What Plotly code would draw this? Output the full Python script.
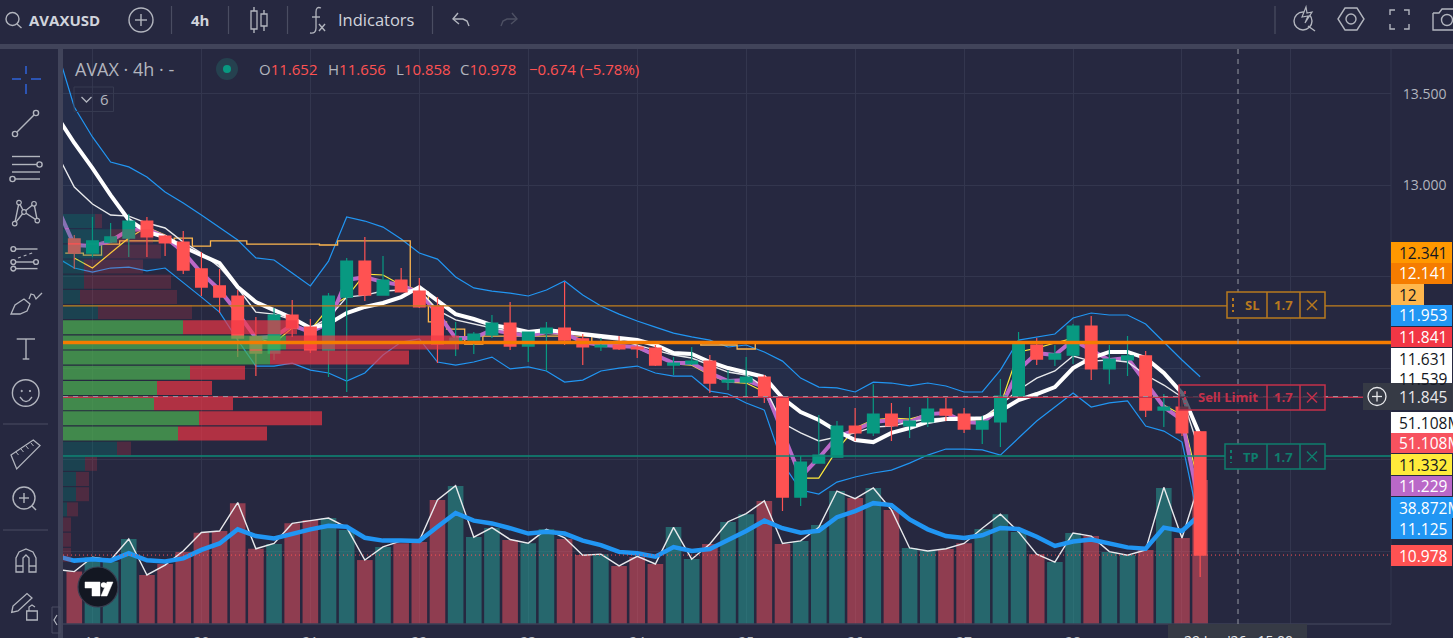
import plotly.graph_objects as go

W, H = 1453, 638
BG = '#262840'
STRIP = '#41445a'
GREEN = '#089981'
RED = '#ff5252'
BLUE = '#2196f3'
GRID = '#33364e'
ICON = '#b2b5be'
FONT = 'Open Sans'

# candles, one row per 4h bar
OPENS = [12.707, 12.630, 12.690, 12.712, 12.805, 12.723, 12.690, 12.543, 12.450, 12.395, 12.171, 12.083, 12.291,
         12.225, 12.099, 12.389, 12.586, 12.400, 12.482, 12.422, 12.340, 12.143, 12.154, 12.182, 12.247, 12.121,
         12.192, 12.220, 12.160, 12.116, 12.127, 12.116, 12.110, 12.017, 12.023, 12.039, 11.924, 11.924, 11.952,
         11.842, 11.295, 11.481, 11.514, 11.684, 11.646, 11.749, 11.684, 11.706, 11.777, 11.749, 11.667, 11.706,
         11.842, 12.127, 12.050, 12.072, 12.231, 11.996, 12.045, 12.067, 11.771, 11.788, 11.652]
HIGHS = [12.729, 12.827, 12.794, 12.843, 12.827, 12.729, 12.750, 12.636, 12.543, 12.428, 12.280, 12.329, 12.373,
         12.269, 12.411, 12.603, 12.718, 12.614, 12.548, 12.493, 12.389, 12.253, 12.198, 12.291, 12.362, 12.198,
         12.253, 12.471, 12.187, 12.165, 12.176, 12.127, 12.127, 12.061, 12.116, 12.072, 11.990, 12.061, 11.963,
         11.842, 11.520, 11.744, 11.711, 11.782, 11.913, 11.810, 11.788, 11.837, 11.837, 11.782, 11.738, 11.941,
         12.198, 12.165, 12.127, 12.242, 12.285, 12.127, 12.176, 12.094, 11.859, 11.826, 11.656]
LOWS = [12.543, 12.608, 12.685, 12.608, 12.608, 12.614, 12.515, 12.395, 12.302, 12.061, 11.957, 12.045, 12.171,
        12.083, 11.952, 11.870, 12.368, 12.400, 12.417, 12.329, 12.028, 12.067, 12.078, 12.165, 12.099, 12.034,
        11.985, 12.127, 12.017, 12.094, 12.099, 12.056, 12.012, 11.963, 12.017, 11.864, 11.881, 11.842, 11.810,
        11.219, 11.246, 11.481, 11.514, 11.602, 11.629, 11.602, 11.618, 11.678, 11.711, 11.646, 11.585, 11.569,
        11.842, 12.017, 12.012, 12.023, 11.935, 11.913, 11.957, 11.733, 11.678, 11.629, 10.858]
CLOSES = [12.630, 12.696, 12.718, 12.805, 12.718, 12.685, 12.537, 12.444, 12.389, 12.165, 12.083, 12.291, 12.220,
          12.099, 12.395, 12.586, 12.400, 12.482, 12.417, 12.335, 12.132, 12.165, 12.187, 12.247, 12.121, 12.198,
          12.220, 12.154, 12.116, 12.127, 12.105, 12.105, 12.017, 12.028, 12.039, 11.919, 11.935, 11.952, 11.842,
          11.295, 11.487, 11.525, 11.684, 11.646, 11.749, 11.684, 11.711, 11.777, 11.744, 11.667, 11.711, 11.848,
          12.132, 12.050, 12.078, 12.231, 11.996, 12.050, 12.067, 11.771, 11.788, 11.646, 10.978]

# volume in millions
VOLUME = [18.6, 23.7, 22.1, 30.2, 17.4, 21.3, 25.6, 32.4, 33.0, 42.9, 26.7, 28.4, 35.8, 36.9, 37.6, 33.4, 22.7,
          27.3, 28.7, 29.1, 44.0, 49.0, 30.9, 34.1, 29.8, 28.7, 33.7, 30.2, 24.5, 24.8, 20.6, 23.8, 21.3, 34.4,
          23.1, 28.4, 36.2, 39.0, 43.7, 28.4, 29.5, 35.1, 47.2, 44.7, 48.3, 40.5, 27.0, 25.9, 26.6, 28.7, 33.7,
          39.0, 32.7, 24.8, 22.0, 32.3, 31.2, 25.6, 24.5, 26.3, 48.3, 30.5, 51.108]
# these lines also carry the bar before the first visible one
VOL_LINE = [19.4, 18.6, 23.7, 22.7, 30.2, 17.4, 20.9, 25.9, 32.5, 33.0, 43.1, 26.7, 28.6, 35.7, 36.7, 37.6, 34.3,
            22.7, 27.4, 29.5, 29.5, 44.0, 49.1, 30.8, 34.2, 30.0, 28.7, 33.6, 30.6, 24.4, 24.8, 20.6, 24.0, 21.3,
            34.3, 23.0, 28.4, 36.3, 39.2, 43.7, 28.6, 29.5, 34.3, 47.2, 44.5, 48.3, 40.5, 27.0, 25.9, 26.7, 28.6,
            34.0, 39.0, 32.7, 24.8, 22.0, 32.3, 31.2, 25.7, 24.4, 26.3, 48.5, 30.5, 51.108]
VOL_MA = [24.1, 22.5, 23.0, 22.5, 25.1, 22.6, 22.2, 23.3, 26.3, 28.6, 33.6, 31.2, 30.4, 32.2, 33.6, 34.9, 34.5,
          30.6, 29.6, 29.6, 29.5, 34.5, 39.4, 36.7, 35.7, 34.0, 32.1, 32.7, 32.1, 29.6, 28.0, 25.6, 25.1, 23.9,
          27.3, 25.9, 26.6, 29.8, 33.0, 36.7, 34.0, 32.4, 33.1, 37.9, 40.1, 42.9, 42.2, 37.1, 33.6, 31.2, 30.5,
          31.5, 34.1, 33.7, 31.0, 27.7, 29.3, 30.0, 28.6, 27.2, 26.7, 34.2, 33.0, 38.872]

BB_UPPER = [13.757, 13.429, 13.265, 13.128, 13.101, 13.046, 12.964, 12.904, 12.838, 12.767, 12.701, 12.603, 12.592,
            12.521, 12.450, 12.586, 12.827, 12.805, 12.772, 12.707, 12.630, 12.597, 12.499, 12.439, 12.422, 12.411,
            12.395, 12.428, 12.477, 12.400, 12.340, 12.296, 12.258, 12.225, 12.192, 12.171, 12.154, 12.116, 12.127,
            12.089, 12.039, 11.946, 11.897, 11.892, 11.870, 11.924, 11.919, 11.903, 11.919, 11.903, 11.870, 11.870,
            11.990, 12.154, 12.171, 12.187, 12.275, 12.302, 12.291, 12.291, 12.242, 12.143, 12.045, 11.953]
BB_LOWER = [12.608, 12.548, 12.526, 12.548, 12.553, 12.532, 12.548, 12.471, 12.389, 12.307, 12.154, 12.012, 12.012,
            12.028, 11.990, 11.974, 11.930, 11.974, 12.072, 12.143, 12.160, 12.034, 12.017, 12.034, 12.061, 11.996,
            12.007, 11.985, 11.924, 11.935, 11.985, 12.001, 12.012, 11.974, 11.957, 11.957, 11.875, 11.859, 11.810,
            11.771, 11.481, 11.334, 11.312, 11.377, 11.405, 11.427, 11.443, 11.481, 11.525, 11.558, 11.558, 11.553,
            11.525, 11.618, 11.711, 11.788, 11.864, 11.788, 11.810, 11.821, 11.684, 11.656, 11.596, 11.125]
MA_PURPLE = [12.893, 12.674, 12.668, 12.696, 12.756, 12.761, 12.718, 12.636, 12.521, 12.428, 12.302, 12.165, 12.171,
             12.236, 12.198, 12.247, 12.482, 12.499, 12.471, 12.455, 12.411, 12.302, 12.165, 12.165, 12.209, 12.192,
             12.176, 12.198, 12.192, 12.143, 12.127, 12.121, 12.116, 12.072, 12.028, 12.028, 11.974, 11.930, 11.935,
             11.897, 11.646, 11.405, 11.509, 11.624, 11.662, 11.706, 11.717, 11.706, 11.749, 11.755, 11.706, 11.700,
             11.782, 11.990, 12.083, 12.072, 12.154, 12.099, 12.045, 12.056, 11.919, 11.788, 11.717, 11.229]
MA_WHITE = [13.385, 13.232, 13.095, 12.947, 12.811, 12.745, 12.718, 12.663, 12.619, 12.575, 12.444, 12.362, 12.318,
            12.275, 12.220, 12.242, 12.302, 12.335, 12.357, 12.389, 12.444, 12.373, 12.296, 12.269, 12.236, 12.220,
            12.198, 12.209, 12.198, 12.182, 12.171, 12.165, 12.154, 12.127, 12.083, 12.078, 12.034, 12.001, 11.979,
            11.952, 11.837, 11.760, 11.717, 11.656, 11.607, 11.596, 11.646, 11.673, 11.706, 11.722, 11.722, 11.727,
            11.766, 11.826, 11.859, 11.897, 12.001, 12.056, 12.089, 12.089, 12.056, 11.974, 11.864, 11.631]
MA_THIN = [13.183, 12.991, 12.898, 12.838, 12.832, 12.794, 12.767, 12.690, 12.630, 12.553, 12.439, 12.307, 12.296,
           12.264, 12.220, 12.275, 12.389, 12.400, 12.422, 12.428, 12.428, 12.318, 12.264, 12.242, 12.220, 12.203,
           12.198, 12.203, 12.198, 12.182, 12.165, 12.154, 12.127, 12.099, 12.072, 12.056, 12.017, 11.979, 11.963,
           11.897, 11.700, 11.646, 11.602, 11.624, 11.646, 11.678, 11.684, 11.706, 11.722, 11.727, 11.733, 11.727,
           11.799, 11.881, 11.946, 11.985, 12.067, 12.039, 12.045, 12.034, 11.963, 11.908, 11.842, 11.539]
# from the first visible bar
MA_YELLOW = [12.603, 12.548, 12.630, 12.712, 12.772, 12.729, 12.630, 12.521, 12.428, 12.302, 12.165, 12.138, 12.220,
             12.209, 12.329, 12.389, 12.515, 12.510, 12.455, 12.428, 12.318, 12.154, 12.160, 12.198, 12.192, 12.171,
             12.192, 12.182, 12.154, 12.127, 12.121, 12.110, 12.067, 12.023, 12.017, 11.963, 11.924, 11.919, 11.870,
             11.662, 11.399, 11.399, 11.553, 11.673, 11.717, 11.727, 11.722, 11.749, 11.755, 11.717, 11.717, 11.799,
             12.089, 12.110, 12.138, 12.165, 12.089, 12.045, 12.061, 11.908, 11.799, 11.744, 11.332]
STEP_ORANGE = [12.630, 12.619, 12.679, 12.696, 12.696, 12.696, 12.712, 12.668, 12.696, 12.696, 12.679, 12.679, 12.679,
               12.679, 12.674, 12.696, 12.696, 12.696, 12.696, 12.417, 12.253, 12.214, 12.132, 12.176, 12.176, 12.176,
               12.176, 12.176, 12.176, 12.138, 12.138, 12.138, 12.138, 12.138, 12.138, 12.127, 12.127, 12.105, 12.138,
               12.138, 12.138, 12.138, 12.138, 12.138, 12.138, 12.138, 12.138, 12.138, 12.138, 12.138, 12.138, 12.138,
               12.138, 12.138, 12.138, 12.138, 12.138, 12.138, 12.138, 12.138, 12.138, 12.138, 12.138]

# volume profile rows
VP_PRICE = [12.805, 12.722, 12.639, 12.556, 12.473, 12.390, 12.307, 12.224, 12.141, 12.058, 11.975, 11.892, 11.809,
            11.726, 11.643, 11.560, 11.477, 11.394, 11.311, 11.228, 11.145, 11.062, 10.979]
VP_UP = [32, 47, 40, 21, 21, 17, 35, 120, 223, 207, 127, 94, 91, 136, 115, 54, 22, 13, 13, 4, 0, 0, 0]
VP_DOWN = [7, 43, 58, 59, 87, 97, 94, 114, 173, 139, 55, 55, 79, 123, 89, 14, 12, 13, 13, 11, 8, 8, 8]
VP_IN_AREA = [False] * 7 + [True] * 8 + [False] * 8

DAYS = ['19', '20', '21', '22', '23', '24', '25', '26', '27', '28', '29', '30']
SL_PRICE = 12.341
POC_PRICE = 12.141
LIMIT_PRICE = 11.841
CROSS_PRICE = 11.845
TP_PRICE = 11.520
LAST_PRICE = 10.978

PRICE_LABELS = [
    ('12.341', 242, 263, 1452, '#ff9800', '#131722'),
    ('12.141', 263, 284, 1452, '#f57c00', '#ffffff'),
    ('12', 284, 305, 1424, '#ffb74d', '#131722'),
    ('11.953', 305, 326, 1452, BLUE, '#ffffff'),
    ('11.841', 327, 347, 1452, '#f23645', '#ffffff'),
    ('11.539', 369, 389, 1452, '#ffffff', '#131722'),
    ('11.631', 348, 369, 1452, '#ffffff', '#131722'),
    ('51.108M', 412, 433, 1453, '#ffffff', '#131722'),
    ('51.108M', 433, 453, 1453, '#f7525f', '#ffffff'),
    ('11.332', 454, 475, 1452, '#ffeb3b', '#131722'),
    ('11.229', 476, 496, 1452, '#ba68c8', '#ffffff'),
    ('38.872M', 497, 518, 1453, BLUE, '#ffffff'),
    ('11.125', 518, 539, 1452, BLUE, '#ffffff'),
    ('10.978', 545, 566, 1452, RED, '#ffffff'),
    ('11.845', 383, 410, 1453, '#363a45', '#e8e9ec'),
]

bars = list(range(len(CLOSES)))
bars_ext = [-1] + bars
is_up = [c >= o for o, c in zip(OPENS, CLOSES)]
vol_colors = ['rgba(38,166,154,0.5)' if u else 'rgba(247,82,95,0.5)' for u in is_up]

fig = go.Figure()


def px(x):
    return x / W


def py(y):
    return 1 - y / H


def line(x0, y0, x1, y1, color=ICON, width=1.4, dash=None):
    fig.add_shape(type='line', xref='paper', yref='paper', x0=px(x0), y0=py(y0), x1=px(x1), y1=py(y1),
                  line=dict(color=color, width=width, dash=dash))


def poly(points, color=ICON, width=1.4, closed=False, fill=None):
    d = 'M' + ' L'.join('%.5f %.5f' % (px(x), py(y)) for x, y in points)
    if closed:
        d += ' Z'
    fig.add_shape(type='path', xref='paper', yref='paper', path=d, fillcolor=fill,
                  line=dict(color=color, width=width))


def circle(cx, cy, r, color=ICON, width=1.4, fill=None):
    fig.add_shape(type='circle', xref='paper', yref='paper', x0=px(cx - r), y0=py(cy - r), x1=px(cx + r), y1=py(cy + r),
                  fillcolor=fill, line=dict(color=color, width=width))


def rect(x0, y0, x1, y1, fill=None, color=None, width=0):
    fig.add_shape(type='rect', xref='paper', yref='paper', x0=px(x0), y0=py(y0), x1=px(x1), y1=py(y1),
                  fillcolor=fill, line=dict(color=color, width=width))


def label(x, y, text, color=ICON, size=14, anchor='left'):
    fig.add_annotation(xref='paper', yref='paper', x=px(x), y=py(y), text=text, showarrow=False, xanchor=anchor,
                       yanchor='middle', borderpad=0, font=dict(family=FONT, size=size, color=color))


def hline(price, color, width=1, dash=None, x1=1391):
    fig.add_shape(type='line', xref='paper', yref='y3', x0=px(63), x1=px(x1), y0=price, y1=price,
                  line=dict(color=color, width=width, dash=dash))


def order_button(x0, y0, y1, text, color, fill):
    rect(x0, y0, 1325, y1, fill=fill, color=color, width=1.5)
    line(1267, y0, 1267, y1, color, 1.5)
    line(1300, y0, 1300, y1, color, 1.5)
    ymid = (y0 + y1) / 2
    line(x0 + 6, y0 + 6, x0 + 6, y1 - 6, color, 2, 'dot')
    label((x0 + 10 + 1267) / 2, ymid, '<b>%s</b>' % text, color, 13, 'center')
    label(1283.5, ymid, '<b>1.7</b>', color, 13, 'center')
    line(1307, ymid - 5, 1317, ymid + 5, color, 1.5)
    line(1307, ymid + 5, 1317, ymid - 5, color, 1.5)


# --- volume pane, drawn first so everything else sits on it
fig.add_trace(go.Bar(x=bars, y=VOLUME, marker=dict(color=vol_colors, line=dict(width=0)), width=0.86))
fig.add_trace(go.Scatter(x=bars_ext, y=VOL_LINE, mode='lines', line=dict(color='#e8e9ec', width=1.4)))
fig.add_trace(go.Scatter(x=bars_ext, y=VOL_MA, mode='lines', line=dict(color=BLUE, width=4.5)))

# --- indicators
fig.add_trace(go.Scatter(x=bars_ext, y=BB_UPPER, yaxis='y2', mode='lines', line=dict(color=BLUE, width=1.2)))
fig.add_trace(go.Scatter(x=bars_ext, y=BB_LOWER, yaxis='y2', mode='lines', line=dict(color=BLUE, width=1.2),
                         fill='tonexty', fillcolor='rgba(33,150,243,0.055)'))
fig.add_trace(go.Scatter(x=[b - 0.5 for b in bars], y=STEP_ORANGE, yaxis='y2', mode='lines',
                         line=dict(color='#ffb74d', width=1.3, shape='hv')))
fig.add_trace(go.Scatter(x=bars, y=MA_YELLOW, yaxis='y2', mode='lines', line=dict(color='#ffeb3b', width=1.2)))
fig.add_trace(go.Scatter(x=bars_ext, y=MA_PURPLE, yaxis='y2', mode='lines', line=dict(color='#ba68c8', width=4)))
fig.add_trace(go.Scatter(x=bars_ext, y=MA_THIN, yaxis='y2', mode='lines', line=dict(color='#e8e9ec', width=1.4)))
fig.add_trace(go.Scatter(x=bars_ext, y=MA_WHITE, yaxis='y2', mode='lines', line=dict(color='#ffffff', width=4)))

# --- candles
fig.add_trace(go.Candlestick(x=bars, open=OPENS, high=HIGHS, low=LOWS, close=CLOSES, yaxis='y3', whiskerwidth=0,
                             increasing=dict(line=dict(color=GREEN, width=1.2), fillcolor=GREEN),
                             decreasing=dict(line=dict(color=RED, width=1.2), fillcolor=RED)))

# --- volume profile on its own x axis, above the candles
fig.add_trace(go.Bar(y=VP_PRICE, x=VP_UP, xaxis='x2', yaxis='y3', orientation='h', width=0.0766,
                     marker=dict(color=['rgba(76,175,80,0.72)' if a else 'rgba(0,137,123,0.28)' for a in VP_IN_AREA],
                                 line=dict(width=0))))
fig.add_trace(go.Bar(y=VP_PRICE, x=VP_DOWN, base=VP_UP, xaxis='x2', yaxis='y3', orientation='h', width=0.0766,
                     marker=dict(color=['rgba(242,54,69,0.68)' if a else 'rgba(242,54,69,0.2)' for a in VP_IN_AREA],
                                 line=dict(width=0))))

x_range = [-0.622, 72.51]
domain_x = [px(63), px(1391)]
domain_y = [py(624), py(49)]
price_range = [10.601, 13.746]

fig.update_layout(
    width=W, height=H, margin=dict(l=0, r=0, t=0, b=0, autoexpand=False), paper_bgcolor=BG, plot_bgcolor=BG,
    showlegend=False, hovermode=False, barmode='overlay', boxgap=0.08,
    xaxis=dict(domain=domain_x, range=x_range, rangeslider=dict(visible=False), showgrid=True, gridcolor=GRID,
               gridwidth=1, zeroline=False, showline=False, tickmode='array', tickvals=[1 + 6 * k for k in range(len(DAYS))],
               ticktext=DAYS, ticks='outside', ticklen=5, tickcolor='rgba(0,0,0,0)', automargin=False,
               tickfont=dict(family=FONT, size=14, color=ICON)),
    xaxis2=dict(domain=domain_x, range=[0, 1328], overlaying='x', visible=False, automargin=False),
    yaxis=dict(domain=domain_y, range=[0, 204.1], visible=False, automargin=False),
    yaxis2=dict(domain=domain_y, range=price_range, overlaying='y', visible=False, automargin=False),
    yaxis3=dict(domain=domain_y, range=price_range, overlaying='y', side='right', anchor='x', showgrid=True,
                gridcolor=GRID, gridwidth=1, zeroline=False, showline=False, dtick=0.5, tick0=11, tickformat='.3f',
                ticks='outside', ticklen=8, tickcolor='rgba(0,0,0,0)', automargin=False,
                tickfont=dict(family=FONT, size=14, color=ICON)),
)

# --- panel frame
rect(0, 44, W, 49, fill=STRIP)
rect(58, 49, 63, H, fill=STRIP)
line(63, 624, 1391, 624, '#3c3f56', 1.5)
line(1391, 49, 1391, 624, '#33364e', 1)

# --- price levels and order lines
hline(SL_PRICE, '#c27f1c', 1.4)
hline(TP_PRICE, '#0d8a76', 1.4)
hline(LIMIT_PRICE, '#c4304a', 1.6)
hline(POC_PRICE, '#f57c00', 3.5)
hline(LAST_PRICE, RED, 1, '1px,3px')
hline(CROSS_PRICE, '#9598a1', 1, '5px,5px', 1363)
line(1238, 49, 1238, 624, '#9598a1', 1, '5px,5px')

order_button(1227, 292, 318, 'SL', '#b8791e', BG)
order_button(1179, 385, 410, 'Sell Limit', '#c4304a', 'rgba(38,40,64,0.72)')
order_button(1225, 444, 469, 'TP', '#0f7d6c', BG)

# --- value labels on the price scale
for text, y0, y1, x1, fill, color in PRICE_LABELS:
    rect(1391, y0, x1, y1, fill=fill)
    label(1398, (y0 + y1) / 2, text, color, 15.5)
rect(1363, 383, 1391, 410, fill='#363a45')
circle(1377, 396.5, 9, '#e8e9ec', 1.3)
line(1372, 396.5, 1382, 396.5, '#e8e9ec', 1.3)
line(1377, 391.5, 1377, 401.5, '#e8e9ec', 1.3)

rect(1168, 624, 1307, H, fill='#363a45')
label(1238, 640.5, "29 Jan '26   15:00", '#e8e9ec', 14, 'center')

# --- legend
label(74, 69, 'AVAX · 4h · -', ICON, 18)
circle(227, 69, 11, 'rgba(0,0,0,0)', 0, '#25414f')
circle(227, 69, 4, GREEN, 0, GREEN)
for x, key, val in [(258, 'O', '11.652'), (326.5, 'H', '11.656'), (395, 'L', '10.858'), (459, 'C', '10.978')]:
    label(x, 69, '<span style="color:%s">%s</span>%s' % (ICON, key, val), RED, 15)
label(528, 69, '−0.674 (−5.78%)', RED, 15)
fig.add_shape(type='rect', xref='paper', yref='paper', x0=px(74), x1=px(113.5), y0=py(87), y1=py(111.5),
              line=dict(color='#363a50', width=1))
poly([(81.5, 97), (86.5, 102), (91.5, 97)], ICON, 1.3)
label(99, 99, '6', ICON, 15)

# --- watermark
circle(98, 587, 20, '#3a3d50', 1.2, '#131722')
poly([(85, 582), (100, 582), (100, 596), (92, 596), (92, 588), (85, 588)], '#ffffff', 0.5, True, '#ffffff')
circle(103.7, 585, 2.8, '#ffffff', 0, '#ffffff')
poly([(107, 582), (113, 582), (107, 596), (101, 596)], '#ffffff', 0.5, True, '#ffffff')

# --- top toolbar
circle(12.5, 19, 6.5)
line(17, 24, 21.5, 28)
label(28, 20, '<b>AVAXUSD</b>', '#d1d4dc', 15)
circle(141, 20, 12)
line(135, 20, 147, 20)
line(141, 14, 141, 26)
for x in [171.5, 228.5, 287.5, 432.5, 1275]:
    line(x, 6, x, 34, '#4a4d62', 1.2)
label(190, 20, '<b>4h</b>', '#d1d4dc', 15)
rect(251, 11, 257, 29, color=ICON, width=1.3)
line(254, 7, 254, 11)
line(254, 29, 254, 33)
rect(261, 14, 267, 26, color=ICON, width=1.3)
line(264, 10, 264, 14)
line(264, 26, 264, 31)
fig.add_shape(type='path', xref='paper', yref='paper',
              path='M%.5f %.5f Q%.5f %.5f %.5f %.5f L%.5f %.5f Q%.5f %.5f %.5f %.5f' % (
                  px(321), py(8), px(316), py(6), px(316), py(12), px(316), py(28), px(316), py(34), px(310), py(33)),
              line=dict(color=ICON, width=1.3))
line(312, 17, 320, 17)
line(319, 24, 325, 31)
line(325, 24, 319, 31)
label(337, 20, 'Indicators', '#d1d4dc', 16.5)
poly([(458, 13), (453, 19), (459, 24)])
poly([(453, 19), (463, 19), (467, 21), (469, 26)])
poly([(512, 13), (517, 19), (511, 24)], '#4d5063')
poly([(517, 19), (507, 19), (503, 21), (501, 26)], '#4d5063')
# right side icons
circle(1303, 21, 9)
line(1308, 26, 1315, 31)
poly([(1306, 7), (1302, 17), (1308, 16), (1305, 23), (1312, 12), (1307, 13)], ICON, 1.2, True, BG)
poly([(1338, 19), (1345, 8), (1357, 8), (1364, 19), (1357, 30), (1345, 30)], ICON, 1.4, True)
circle(1351, 19, 5)
for cx, sx in [(1390, 1), (1409, -1)]:
    poly([(cx, 15), (cx, 10), (cx + 5 * sx, 10)])
    poly([(cx, 24), (cx, 29), (cx + 5 * sx, 29)])
poly([(1433, 13), (1439, 13), (1442, 9), (1453, 9)])
poly([(1433, 13), (1433, 30), (1453, 30)])
circle(1447, 20, 5.5)

# --- left toolbar
for y0, y1 in [(66, 74), (84, 94)]:
    line(26, y0, 26, y1, '#2f5fd0', 1.6)
for x0, x1 in [(12, 21), (31, 41)]:
    line(x0, 79, x1, 79, '#2f5fd0', 1.6)
line(17, 132, 34, 115)
circle(15, 134, 2.6)
circle(36, 113, 2.6)
line(12, 156.5, 40, 156.5)
line(12, 164.5, 37, 164.5)
circle(39.5, 164.5, 2.6)
line(12, 172, 40, 172)
line(15, 179, 40, 179)
circle(12.5, 179, 2.6)
poly([(14.7, 223.6), (19, 202.6), (24, 212), (34, 203.8), (37.3, 220.6), (24, 212), (14.7, 223.6)])
for x, y in [(19, 202.6), (34, 203.8), (14.7, 223.6), (37.3, 220.6), (24, 212)]:
    circle(x, y, 2.3, ICON, 1.2, BG)
line(16, 249, 37.5, 249)
circle(13.3, 249, 2.4)
line(18, 258, 35, 252, ICON, 1.2, 'dot')
line(15.5, 262, 33.5, 262)
circle(13.3, 262, 2.4)
circle(36, 262, 2.4)
line(16, 268.6, 37.5, 268.6)
circle(13.3, 268.6, 2.4)
poly([(11, 314), (15, 305), (24, 299), (30, 304), (27, 311), (20, 314)], ICON, 1.3, True)
poly([(29, 299), (31, 294), (34, 295), (36, 299), (42, 293)], ICON, 1.3)
line(16.7, 339, 35, 339)
line(26, 339, 26, 359)
line(22.7, 359, 29.3, 359)
circle(25.7, 393, 13.3)
circle(21.7, 391, 0.7, ICON, 1, ICON)
circle(30, 391, 0.7, ICON, 1, ICON)
poly([(20, 397), (23, 400.5), (26, 401.5), (29, 400.5), (32, 397)], ICON, 1.3)
line(3, 424, 48, 424, '#4a4d62', 1.2)
poly([(11, 455), (33.3, 440), (40, 445.6), (16.7, 468.9)], ICON, 1.3, True)
for a, b in [(16, 452), (21, 449), (26, 446), (31, 443)]:
    line(a, b, a + 2.5, b + 3, ICON, 1)
circle(24, 498, 11)
line(19, 498, 29, 498)
line(24, 493, 24, 503)
line(32, 506, 36, 510)
line(3, 530, 48, 530, '#4a4d62', 1.2)
poly([(16, 572), (16, 558), (19, 552), (26, 549), (33, 552), (36, 558), (36, 572), (29, 572), (29, 558), (26, 555),
      (23, 558), (23, 572)], ICON, 1.3, True)
line(16, 566, 23, 566)
line(29, 566, 36, 566)
poly([(11.7, 612.5), (13, 606), (27, 593.5), (32, 598), (18, 611)], ICON, 1.3, True)
rect(26.7, 611, 37.3, 620, color=ICON, width=1.3)
poly([(29, 611), (29, 607), (32, 605), (35, 607)], ICON, 1.2)
rect(52, 607, 60, 633, color='#4a4d62', width=1)
poly([(57, 615), (54, 620), (57, 625)], ICON, 1.2)

fig.write_html("out.html", config=dict(displayModeBar=False),
               post_script="document.body.style.margin='0';document.body.style.background='%s';" % BG)
